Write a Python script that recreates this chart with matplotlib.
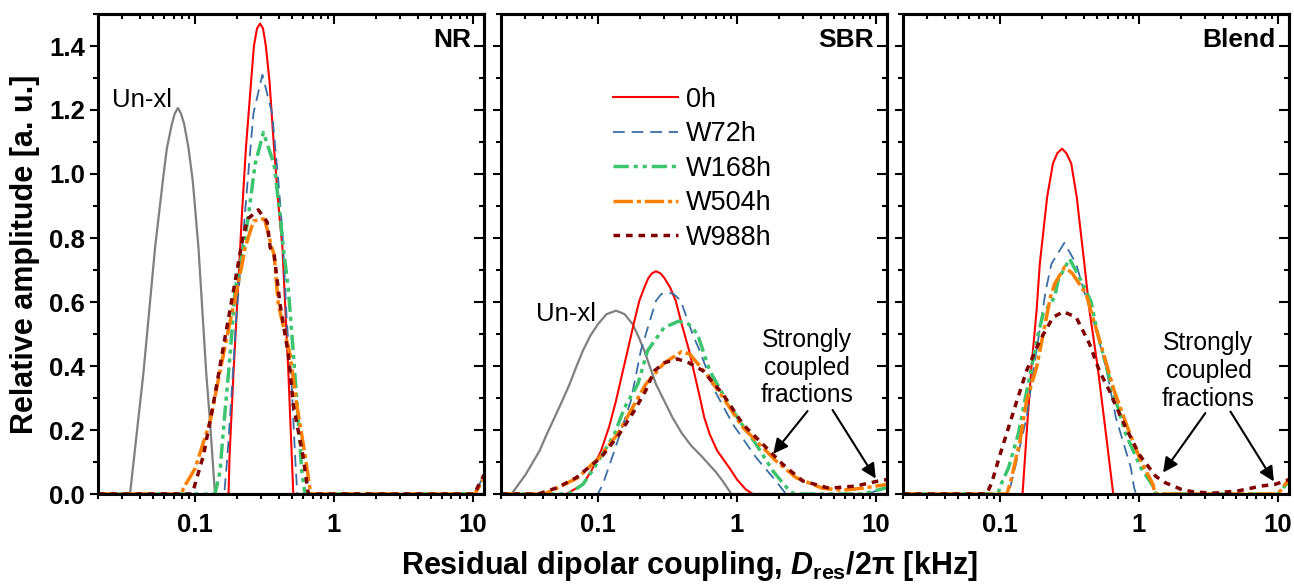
import matplotlib
matplotlib.use("Agg")
import matplotlib.pyplot as plt
from matplotlib.ticker import MultipleLocator, LogLocator, NullFormatter

plt.rcParams["font.family"] = "Liberation Sans"
plt.rcParams["mathtext.fontset"] = "custom"
plt.rcParams["mathtext.rm"] = "Liberation Sans:bold"
plt.rcParams["mathtext.it"] = "Liberation Sans:italic:bold"
plt.rcParams["mathtext.bf"] = "Liberation Sans:bold"

# ---- NR ----
nr_unxl_x = [0.02, 0.034, 0.0425, 0.0515, 0.0586, 0.0626, 0.068, 0.0715, 0.0752, 0.079, 0.0834, 0.0895, 0.0962, 0.1057, 0.120, 0.128, 0.139, 12]
nr_unxl_y = [0, 0, 0.38, 0.77, 0.98, 1.08, 1.156, 1.19, 1.206, 1.19, 1.156, 1.083, 0.978, 0.77, 0.383, 0.226, 0, 0]
nr_0h_x = [0.02, 0.174, 0.177, 0.189, 0.211, 0.217, 0.232, 0.253, 0.265, 0.279, 0.294, 0.308, 0.323, 0.343, 0.370, 0.404, 0.425, 0.469, 0.509, 12]
nr_0h_y = [0, 0, 0.12, 0.38, 0.77, 0.87, 1.08, 1.29, 1.40, 1.455, 1.47, 1.455, 1.40, 1.29, 1.08, 0.87, 0.77, 0.38, 0, 0]
nr_w72_x = [0.02, 0.162, 0.171, 0.184, 0.197, 0.223, 0.239, 0.263, 0.305, 0.358, 0.397, 0.425, 0.457, 0.497, 0.524, 0.544, 10.3, 12]
nr_w72_y = [0, 0, 0.12, 0.33, 0.54, 0.82, 0.98, 1.19, 1.31, 1.19, 0.98, 0.82, 0.54, 0.33, 0.12, 0, 0, 0.06]
nr_w168_x = [0.02, 0.139, 0.151, 0.162, 0.179, 0.194, 0.223, 0.242, 0.270, 0.31, 0.370, 0.409, 0.431, 0.469, 0.509, 0.553, 0.586, 0.618, 10.3, 12]
nr_w168_y = [0, 0, 0.07, 0.23, 0.44, 0.64, 0.77, 0.87, 1.03, 1.13, 1.03, 0.87, 0.77, 0.64, 0.44, 0.23, 0.07, 0, 0, 0.05]
nr_w504_x = [0.02, 0.08, 0.0824, 0.1, 0.128, 0.169, 0.220, 0.229, 0.263, 0.31, 0.319, 0.356, 0.370, 0.397, 0.482, 0.539, 0.618, 0.679, 10.3, 12]
nr_w504_y = [0, 0, 0.018, 0.08, 0.226, 0.488, 0.727, 0.77, 0.853, 0.86, 0.853, 0.77, 0.749, 0.592, 0.435, 0.279, 0.122, 0, 0, 0.05]
nr_w988_x = [0.02, 0.095, 0.098, 0.115, 0.135, 0.164, 0.200, 0.22, 0.24, 0.285, 0.33, 0.347, 0.370, 0.409, 0.469, 0.509, 0.596, 0.653, 10.2, 12]
nr_w988_y = [0, 0, 0.018, 0.122, 0.279, 0.488, 0.696, 0.80, 0.86, 0.888, 0.85, 0.77, 0.749, 0.592, 0.435, 0.279, 0.122, 0, 0, 0.06]

# ---- SBR ----
sbr_unxl_x = [0.02, 0.0238, 0.03, 0.0379, 0.043, 0.0486, 0.055, 0.0623, 0.07, 0.0777, 0.088, 0.0998, 0.115, 0.1345, 0.155, 0.177, 0.196, 0.215, 0.237, 0.261, 0.30, 0.343, 0.40, 0.47, 0.55, 0.635, 0.70, 0.79, 0.91, 12]
sbr_unxl_y = [0, 0, 0.06, 0.135, 0.19, 0.239, 0.29, 0.343, 0.40, 0.448, 0.495, 0.531, 0.562, 0.573, 0.562, 0.531, 0.49, 0.448, 0.395, 0.343, 0.29, 0.239, 0.19, 0.15, 0.12, 0.09, 0.07, 0.04, 0, 0]
sbr_0h_x = [0.02, 0.059, 0.0777, 0.09, 0.105, 0.12, 0.1345, 0.148, 0.163, 0.18, 0.198, 0.215, 0.23, 0.245, 0.261, 0.28, 0.30, 0.33, 0.362, 0.40, 0.452, 0.50, 0.547, 0.58, 0.635, 0.72, 0.88, 1.0, 1.15, 1.3, 12]
sbr_0h_y = [0, 0, 0.03, 0.075, 0.135, 0.21, 0.291, 0.37, 0.448, 0.53, 0.604, 0.645, 0.675, 0.69, 0.696, 0.69, 0.675, 0.645, 0.604, 0.53, 0.448, 0.365, 0.291, 0.24, 0.187, 0.135, 0.082, 0.045, 0.015, 0, 0]
sbr_w72_x = [0.02, 0.0995, 0.108, 0.131, 0.172, 0.203, 0.261, 0.285, 0.316, 0.35, 0.393, 0.478, 0.538, 0.690, 0.933, 1.37, 1.91, 2.25, 8.5, 12]
sbr_w72_y = [0, 0, 0.03, 0.135, 0.291, 0.448, 0.604, 0.625, 0.63, 0.625, 0.604, 0.50, 0.448, 0.323, 0.218, 0.114, 0.04, 0, 0, 0.02]
sbr_w168_x = [0.02, 0.061, 0.0777, 0.094, 0.131, 0.155, 0.193, 0.227, 0.298, 0.38, 0.45, 0.519, 0.635, 0.791, 1.04, 1.37, 1.81, 2.38, 2.6, 8.0, 12]
sbr_w168_y = [0, 0, 0.03, 0.082, 0.187, 0.27, 0.343, 0.448, 0.52, 0.54, 0.53, 0.50, 0.385, 0.312, 0.229, 0.156, 0.072, 0.01, 0, 0, 0.02]
sbr_w504_x = [0.02, 0.041, 0.0514, 0.0715, 0.102, 0.138, 0.177, 0.22, 0.30, 0.40, 0.457, 0.601, 0.791, 1.10, 1.45, 1.91, 2.66, 4.12, 5.74, 7.98, 12]
sbr_w504_y = [0, 0, 0.02, 0.051, 0.114, 0.187, 0.27, 0.343, 0.41, 0.445, 0.437, 0.375, 0.302, 0.208, 0.156, 0.103, 0.051, 0.018, 0.012, 0.018, 0.03]
sbr_w988_x = [0.02, 0.037, 0.051, 0.0695, 0.105, 0.142, 0.182, 0.22, 0.254, 0.30, 0.372, 0.45, 0.569, 0.791, 1.10, 1.53, 2.13, 2.96, 4.6, 7.16, 10.5, 12]
sbr_w988_y = [0, 0, 0.02, 0.051, 0.114, 0.187, 0.26, 0.323, 0.385, 0.41, 0.422, 0.41, 0.385, 0.312, 0.218, 0.156, 0.093, 0.041, 0.018, 0.025, 0.041, 0.045]

# ---- Blend ----
bl_0h_x = [0.02, 0.145, 0.155, 0.168, 0.183, 0.193, 0.218, 0.240, 0.258, 0.279, 0.30, 0.325, 0.356, 0.404, 0.44, 0.504, 0.578, 0.652, 12]
bl_0h_y = [0, 0, 0.187, 0.396, 0.573, 0.719, 0.928, 1.033, 1.065, 1.079, 1.065, 1.033, 0.928, 0.719, 0.573, 0.396, 0.187, 0, 0]
bl_w72_x = [0.02, 0.115, 0.128, 0.155, 0.175, 0.199, 0.213, 0.234, 0.29, 0.353, 0.40, 0.464, 0.578, 0.681, 0.873, 0.921, 0.95, 10.0, 12]
bl_w72_y = [0, 0, 0.082, 0.239, 0.396, 0.552, 0.636, 0.719, 0.785, 0.719, 0.636, 0.552, 0.396, 0.239, 0.082, 0.02, 0, 0, 0.04]
bl_w168_x = [0.02, 0.097, 0.099, 0.115, 0.135, 0.159, 0.188, 0.204, 0.247, 0.261, 0.316, 0.383, 0.452, 0.504, 0.628, 0.803, 1.03, 1.28, 1.32, 10.0, 12]
bl_w168_y = [0, 0, 0.02, 0.082, 0.187, 0.343, 0.5, 0.563, 0.615, 0.667, 0.735, 0.667, 0.60, 0.5, 0.343, 0.187, 0.082, 0.02, 0, 0, 0.04]
bl_w504_x = [0.02, 0.112, 0.121, 0.139, 0.155, 0.183, 0.204, 0.230, 0.247, 0.291, 0.33, 0.416, 0.464, 0.547, 0.662, 0.826, 1.03, 1.26, 1.30, 10.0, 12]
bl_w504_y = [0, 0, 0.051, 0.166, 0.291, 0.396, 0.5, 0.615, 0.657, 0.709, 0.69, 0.625, 0.552, 0.448, 0.323, 0.208, 0.103, 0.03, 0, 0, 0.047]
bl_w988_x = [0.02, 0.080, 0.087, 0.1, 0.115, 0.132, 0.155, 0.193, 0.240, 0.285, 0.353, 0.44, 0.518, 0.611, 0.760, 1.0, 1.32, 1.55, 2.0, 2.5, 3.5, 5.2, 7.6, 9.5, 12]
bl_w988_y = [0, 0, 0.035, 0.124, 0.208, 0.291, 0.385, 0.479, 0.552, 0.57, 0.552, 0.469, 0.385, 0.323, 0.229, 0.124, 0.055, 0.035, 0.015, 0.006, 0.003, 0.01, 0.025, 0.03, 0.045]

labels = ["0h", "W72h", "W168h", "W504h", "W988h"]
styles = [
    dict(color="#ff0000", lw=1.5, ls="-"),
    dict(color="#3a6ea5", lw=1.3, ls=(0, (6.5, 3.8))),
    dict(color="#3cc46e", lw=2.5, ls=(0, (4.4, 1.4, 1.2, 1.4, 1.2, 1.4))),
    dict(color="#ff8000", lw=2.5, ls=(0, (5.6, 1.1, 1.2, 1.1))),
    dict(color="#800000", lw=2.5, ls=(0, (1.9, 1.7))),
]
unxl_style = dict(color="#808080", lw=1.6, ls="-")

panels = [
    ("NR", (nr_unxl_x, nr_unxl_y),
     [(nr_0h_x, nr_0h_y), (nr_w72_x, nr_w72_y), (nr_w168_x, nr_w168_y),
      (nr_w504_x, nr_w504_y), (nr_w988_x, nr_w988_y)]),
    ("SBR", (sbr_unxl_x, sbr_unxl_y),
     [(sbr_0h_x, sbr_0h_y), (sbr_w72_x, sbr_w72_y), (sbr_w168_x, sbr_w168_y),
      (sbr_w504_x, sbr_w504_y), (sbr_w988_x, sbr_w988_y)]),
    ("Blend", None,
     [(bl_0h_x, bl_0h_y), (bl_w72_x, bl_w72_y), (bl_w168_x, bl_w168_y),
      (bl_w504_x, bl_w504_y), (bl_w988_x, bl_w988_y)]),
]

fig = plt.figure(figsize=(12.94, 5.85), dpi=100)
lefts = [98 / 1294, 501 / 1294, 903 / 1294]
width = 386 / 1294
bottom = 1 - 494 / 585
height = 480 / 585

tick_kw = dict(width=1.5)
axes = []
for i, (name, unxl, series) in enumerate(panels):
    ax = fig.add_axes([lefts[i], bottom, width, height])
    axes.append(ax)
    ax.set_xscale("log")
    if unxl is not None:
        ax.plot(unxl[0], unxl[1], **unxl_style)
    handles = []
    for (x, y), st in zip(series, styles):
        (h,) = ax.plot(x, y, solid_joinstyle="round", **st)
        handles.append(h)
    ax.set_xlim(0.02, 12)
    ax.set_ylim(0, 1.5)
    ax.set_xticks([0.1, 1, 10])
    ax.set_xticklabels(["0.1", "1", "10"])
    ax.xaxis.set_minor_locator(LogLocator(base=10, subs=[2, 3, 4, 5, 6, 7, 8, 9]))
    ax.xaxis.set_minor_formatter(NullFormatter())
    ax.yaxis.set_major_locator(MultipleLocator(0.2))
    ax.yaxis.set_minor_locator(MultipleLocator(0.1))
    ax.yaxis.set_major_formatter(plt.FuncFormatter(lambda v, p: f"{v:.1f}"))
    ax.tick_params(which="both", direction="out", top=False, right=False, **tick_kw)
    ax.tick_params(which="major", length=6, labelsize=18.5)
    ax.tick_params(which="minor", length=3.5)
    ax.tick_params(axis="x", which="major", pad=8)
    ax.tick_params(axis="y", which="major", pad=3.5)
    if i > 0:
        ax.tick_params(labelleft=False)
    for lab in ax.get_xticklabels() + ax.get_yticklabels():
        lab.set_fontweight("bold")
    for sp in ax.spines.values():
        sp.set_linewidth(2.2)

    top = ax.secondary_xaxis("top")
    top.set_xticks([0.1, 1, 10])
    top.xaxis.set_minor_locator(LogLocator(base=10, subs=[2, 3, 4, 5, 6, 7, 8, 9]))
    top.tick_params(which="both", direction="in", labeltop=False, **tick_kw)
    top.tick_params(which="major", length=7)
    top.tick_params(which="minor", length=3.5)
    top.spines["top"].set_linewidth(2.2)

    right = ax.secondary_yaxis("right")
    right.yaxis.set_major_locator(MultipleLocator(0.2))
    right.yaxis.set_minor_locator(MultipleLocator(0.1))
    right.tick_params(which="both", direction="in", labelright=False, **tick_kw)
    right.tick_params(which="major", length=7)
    right.tick_params(which="minor", length=3.5)
    right.spines["right"].set_linewidth(2.2)

    ax.text(0.966, 0.945, name, transform=ax.transAxes, ha="right", va="center",
            fontsize=19, fontweight="bold")
    if i == 1:
        ax.legend(handles, labels, loc="upper left", bbox_to_anchor=(0.289, 0.848),
                  frameon=False, fontsize=19.5, handlelength=2.4, handletextpad=0.3,
                  labelspacing=0.31, borderaxespad=0, borderpad=0)

axes[0].text(0.0253, 1.23, "Un-xl", ha="left", va="center", fontsize=18.5)
axes[1].text(0.036, 0.564, "Un-xl", ha="left", va="center", fontsize=18.5)

arrow_kw = dict(arrowstyle="-|>", color="black", lw=1.5, mutation_scale=22)
axes[1].text(3.2, 0.395, "Strongly\ncoupled\nfractions", ha="center", va="center",
             fontsize=17.7, multialignment="center")
axes[1].annotate("", xy=(1.77, 0.119), xytext=(3.31, 0.266), arrowprops=arrow_kw)
axes[1].annotate("", xy=(10.2, 0.041), xytext=(4.75, 0.27), arrowprops=arrow_kw)
axes[2].text(3.16, 0.385, "Strongly\ncoupled\nfractions", ha="center", va="center",
             fontsize=17.7, multialignment="center")
axes[2].annotate("", xy=(1.45, 0.06), xytext=(3.08, 0.26), arrowprops=arrow_kw)
axes[2].annotate("", xy=(9.57, 0.032), xytext=(4.44, 0.265), arrowprops=arrow_kw)

fig.text(0.0193, 0.566, "Relative amplitude [a. u.]", rotation=90, ha="center",
         va="center", fontsize=22, fontweight="bold")
fig.text(0.533, 0.019, r"Residual dipolar coupling, $\mathit{D}_{\mathrm{res}}$/2π [kHz]",
         ha="center", va="baseline", fontsize=22, fontweight="bold")

fig.savefig("out.png", dpi=100)
